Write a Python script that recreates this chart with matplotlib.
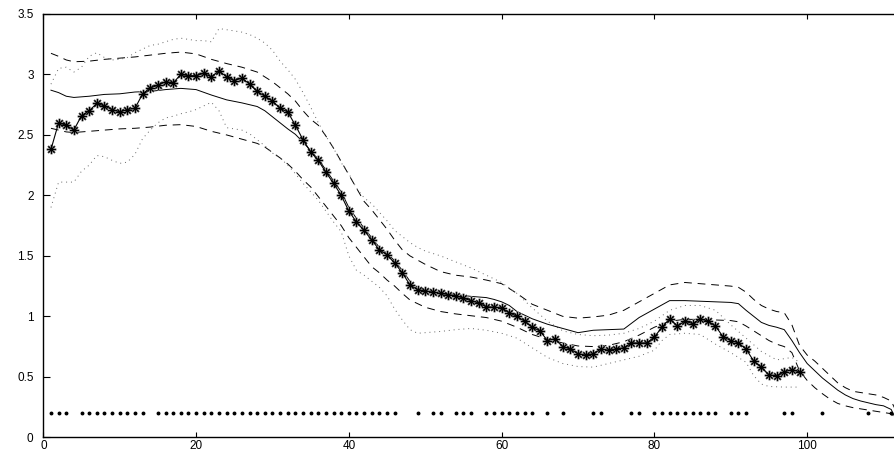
import matplotlib
matplotlib.use("Agg")
import matplotlib.pyplot as plt

# star series (observed), x = 1..99
star_x = list(range(1, 100))
star_y = [2.38, 2.60, 2.58, 2.54, 2.66, 2.70, 2.76, 2.74, 2.71, 2.69,
          2.71, 2.72, 2.84, 2.89, 2.91, 2.94, 2.93, 3.00, 2.99, 2.99,
          3.01, 2.98, 3.03, 2.98, 2.95, 2.97, 2.92, 2.86, 2.82, 2.78,
          2.72, 2.69, 2.58, 2.46, 2.36, 2.29, 2.19, 2.10, 2.00, 1.87,
          1.78, 1.71, 1.63, 1.55, 1.51, 1.44, 1.36, 1.26, 1.22, 1.21,
          1.20, 1.19, 1.18, 1.17, 1.15, 1.13, 1.11, 1.08, 1.075, 1.07,
          1.03, 1.00, 0.96, 0.91, 0.88, 0.80, 0.815, 0.75, 0.73, 0.69,
          0.68, 0.69, 0.73, 0.72, 0.73, 0.74, 0.78, 0.78, 0.78, 0.83,
          0.91, 0.98, 0.92, 0.96, 0.94, 0.98, 0.96, 0.92, 0.83, 0.80,
          0.78, 0.73, 0.63, 0.58, 0.515, 0.51, 0.54, 0.56, 0.54]

# dotted band around the star series
dot_hi_x = [1, 2, 3, 4, 5, 6, 7, 8, 9, 10, 11, 12, 13, 14, 15, 16, 17, 18, 19, 20,
            21, 22, 23, 24, 25, 26, 27, 28, 29, 30, 31, 32, 33, 34, 35, 36, 37, 38, 39, 40,
            41, 42, 43, 44, 45, 46, 47, 48, 49, 50, 52, 54, 56, 58, 60, 62, 64, 66, 68, 70,
            72, 74, 76, 78, 80, 82, 84, 86, 88, 90, 92, 94, 96, 98, 99]
dot_hi_y = [2.92, 3.05, 3.06, 3.02, 3.06, 3.15, 3.18, 3.14, 3.12, 3.125, 3.14, 3.18, 3.21, 3.24,
            3.25, 3.27, 3.29, 3.30, 3.29, 3.28, 3.28, 3.27, 3.38, 3.37, 3.36, 3.35, 3.33, 3.30,
            3.26, 3.20, 3.11, 3.04, 2.96, 2.85, 2.73, 2.60, 2.49, 2.39, 2.27, 2.18, 2.06, 1.98,
            1.93, 1.86, 1.79, 1.71, 1.66, 1.61, 1.57, 1.54, 1.50, 1.45, 1.40, 1.34, 1.28, 1.19,
            1.07, 0.96, 0.88, 0.85, 0.84, 0.845, 0.86, 0.90, 0.96, 1.05, 1.09, 1.09, 1.05, 0.93,
            0.82, 0.71, 0.64, 0.66, 0.62]
dot_lo_x = [1, 2, 3, 4, 5, 6, 7, 8, 9, 10, 11, 12, 13, 14, 15, 16, 17, 18, 19, 20,
            21, 22, 23, 24, 25, 26, 27, 28, 29, 30, 31, 32, 33, 34, 35, 36, 37, 38, 39, 40,
            41, 42, 43, 44, 45, 46, 47, 48, 49, 50, 52, 54, 56, 58, 60, 62, 64, 66, 68, 70,
            72, 74, 76, 78, 80, 81, 82, 84, 86, 88, 90, 92, 93, 94, 95, 97, 99]
dot_lo_y = [1.90, 2.11, 2.11, 2.11, 2.20, 2.25, 2.33, 2.32, 2.29, 2.265, 2.275, 2.34, 2.47, 2.54,
            2.60, 2.64, 2.655, 2.675, 2.69, 2.71, 2.74, 2.77, 2.70, 2.56, 2.55, 2.54, 2.51, 2.46,
            2.41, 2.35, 2.31, 2.25, 2.18, 2.10, 2.03, 1.96, 1.87, 1.78, 1.70, 1.50, 1.38, 1.34,
            1.29, 1.24, 1.17, 1.06, 0.97, 0.89, 0.86, 0.865, 0.875, 0.89, 0.90, 0.885, 0.86, 0.82,
            0.74, 0.66, 0.61, 0.585, 0.58, 0.61, 0.64, 0.67, 0.72, 0.80, 0.85, 0.86, 0.85, 0.77,
            0.70, 0.62, 0.51, 0.44, 0.42, 0.415, 0.415]

# solid line (fit) and dashed band
fit_x = [1, 2, 3, 4, 6, 8, 10, 12, 14, 16, 18, 20, 22, 24, 26, 28, 29, 30, 31, 32,
         33, 34, 35, 36, 37, 38, 39, 40, 41, 42, 43, 44, 45, 46, 47, 48, 49, 50, 52, 54,
         56, 58, 59, 60, 61, 62, 64, 66, 68, 70, 72, 74, 76, 78, 80, 82, 84, 86, 88, 90,
         91, 92, 93, 94, 95, 96, 97, 98, 99, 100, 101, 102, 103, 104, 105, 106, 107, 108, 109, 110,
         111, 112]
fit_y = [2.87, 2.85, 2.82, 2.81, 2.82, 2.835, 2.84, 2.855, 2.86, 2.875, 2.885, 2.875, 2.83, 2.79,
         2.765, 2.735, 2.70, 2.65, 2.60, 2.55, 2.505, 2.44, 2.37, 2.30, 2.21, 2.12, 2.03, 1.90,
         1.81, 1.73, 1.65, 1.57, 1.52, 1.46, 1.38, 1.29, 1.24, 1.22, 1.20, 1.18, 1.165, 1.155,
         1.14, 1.12, 1.09, 1.04, 0.98, 0.935, 0.90, 0.865, 0.885, 0.89, 0.895, 0.99, 1.06, 1.13,
         1.13, 1.125, 1.12, 1.115, 1.105, 1.05, 1.00, 0.95, 0.925, 0.91, 0.89, 0.80, 0.70, 0.61,
         0.55, 0.49, 0.44, 0.39, 0.35, 0.32, 0.30, 0.285, 0.27, 0.26, 0.23, 0.10]
band_x = [1, 2, 3, 4, 6, 8, 10, 12, 14, 16, 18, 20, 22, 24, 26, 28, 29, 30, 31, 32,
          33, 34, 35, 36, 37, 38, 39, 40, 41, 42, 43, 44, 45, 46, 47, 48, 50, 52, 54, 56,
          58, 60, 61, 62, 64, 66, 68, 70, 72, 74, 76, 78, 80, 82, 84, 86, 88, 90, 91, 92,
          93, 94, 95, 96, 97, 98, 99, 100, 101, 102, 103, 104, 105, 106, 107, 108, 109, 110, 111, 112]
band_hi = [3.175, 3.15, 3.12, 3.105, 3.11, 3.125, 3.135, 3.145, 3.16, 3.175, 3.185, 3.17, 3.125,
           3.09, 3.06, 3.02, 2.98, 2.94, 2.89, 2.84, 2.78, 2.70, 2.63, 2.58, 2.49, 2.39, 2.28,
           2.17, 2.06, 1.95, 1.88, 1.80, 1.72, 1.63, 1.55, 1.50, 1.43, 1.37, 1.34, 1.325, 1.30,
           1.27, 1.23, 1.19, 1.10, 1.05, 1.00, 0.985, 0.995, 1.01, 1.05, 1.12, 1.19, 1.26, 1.28,
           1.27, 1.26, 1.25, 1.24, 1.20, 1.14, 1.09, 1.06, 1.04, 1.03, 0.93, 0.76, 0.68, 0.63,
           0.57, 0.51, 0.45, 0.41, 0.38, 0.37, 0.36, 0.35, 0.33, 0.30, 0.17]
band_lo = [2.555, 2.54, 2.525, 2.52, 2.53, 2.54, 2.55, 2.555, 2.565, 2.58, 2.585, 2.57, 2.53,
           2.50, 2.465, 2.43, 2.40, 2.355, 2.31, 2.26, 2.20, 2.13, 2.07, 1.99, 1.91, 1.83, 1.75,
           1.65, 1.57, 1.49, 1.41, 1.36, 1.30, 1.25, 1.19, 1.135, 1.075, 1.04, 1.02, 1.005, 0.99,
           0.96, 0.935, 0.91, 0.85, 0.81, 0.78, 0.755, 0.75, 0.76, 0.79, 0.845, 0.91, 0.96, 0.975,
           0.975, 0.97, 0.965, 0.955, 0.92, 0.88, 0.84, 0.80, 0.77, 0.75, 0.70, 0.55, 0.47, 0.41,
           0.36, 0.315, 0.28, 0.26, 0.245, 0.235, 0.225, 0.215, 0.205, 0.195, 0.08]

# event markers along y = 0.2
event_x = [1, 2, 3, 5, 6, 7, 8, 9, 10, 11, 12, 13] + list(range(15, 47)) + \
          [49, 51, 52, 54, 55, 56, 58, 59, 60, 61, 62, 63, 64, 66, 68, 72, 73, 77, 78] + \
          list(range(80, 89)) + [90, 91, 92, 97, 98, 102, 108, 111]
event_level = 0.2

xtick_vals = [0, 20, 40, 60, 80, 100]
ytick_vals = [0, 0.5, 1, 1.5, 2, 2.5, 3, 3.5]
ytick_labels = ["0", "0.5", "1", "1.5", "2", "2.5", "3", "3.5"]

plt.rcParams['font.family'] = ['Liberation Sans', 'DejaVu Sans']

fig = plt.figure(figsize=(8.95, 4.53), dpi=100)
ax = fig.add_axes([0.0484, 0.0347, 0.9516, 0.9344])

ax.plot(band_x, band_hi, color='black', lw=0.7, dashes=(8, 6))
ax.plot(band_x, band_lo, color='black', lw=0.7, dashes=(8, 6))
ax.plot(dot_hi_x, dot_hi_y, color='0.4', lw=0.7, dashes=(1, 4))
ax.plot(dot_lo_x, dot_lo_y, color='0.4', lw=0.7, dashes=(1, 4))
ax.plot(fit_x, fit_y, color='black', lw=0.7)

ax.plot(star_x, star_y, linestyle='none', marker=(8, 2, 0), markersize=7,
        markeredgewidth=1.4, color='0.6')
ax.plot(star_x, star_y, color='black', lw=0.8, marker=(8, 2, 0), markersize=6,
        markeredgewidth=0.7)

ax.plot(event_x, [event_level] * len(event_x), linestyle='none', marker='o',
        markersize=1.8, color='black')

ax.set_xlim(0, 111.5)
ax.set_ylim(0, 3.5)
ax.set_xticks(xtick_vals)
ax.set_yticks(ytick_vals)
ax.set_yticklabels(ytick_labels)
ax.spines['right'].set_visible(False)
for s in ['left', 'bottom', 'top']:
    ax.spines[s].set_linewidth(1.0)
ax.tick_params(axis='both', direction='in', labelsize=8.5, top=True, right=False)
ax.tick_params(axis='y', length=5, pad=7)
ax.tick_params(axis='x', length=3.5, pad=2)

fig.savefig("out.png", dpi=100)
